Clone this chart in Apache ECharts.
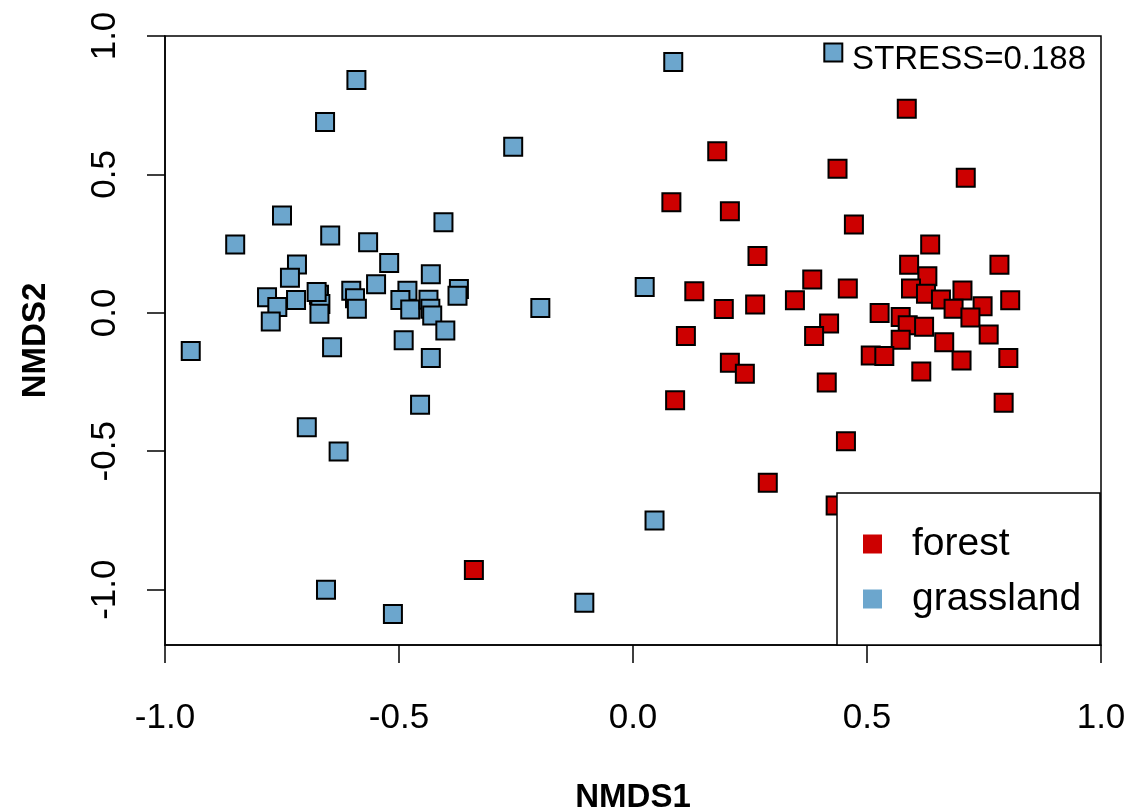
<!DOCTYPE html>
<html>
<head>
<meta charset="utf-8">
<script src="https://cdn.jsdelivr.net/npm/echarts@6/dist/echarts.min.js"></script>
<style>html,body{margin:0;padding:0;background:#fff}#c{width:1129px;height:812px}</style>
</head>
<body>
<div id="c"></div>
<script>
const groups = ['forest', 'grassland'];
const xTicks = [-1.0, -0.5, 0.0, 0.5, 1.0];
const yTicks = [-1.0, -0.5, 0.0, 0.5, 1.0];
const stressLabel = 'STRESS=0.188';

const grassland = [
  [-0.591, 0.841], [-0.658, 0.689], [-0.750, 0.352], [-0.850, 0.247], [-0.647, 0.279],
  [-0.566, 0.255], [-0.405, 0.327], [-0.718, 0.175], [-0.733, 0.127], [-0.521, 0.180],
  [-0.549, 0.103], [-0.432, 0.139], [-0.372, 0.086], [-0.375, 0.062], [-0.782, 0.056],
  [-0.760, 0.021], [-0.720, 0.046], [-0.671, 0.065], [-0.668, 0.032], [-0.670, -0.003],
  [-0.602, 0.080], [-0.594, 0.053], [-0.590, 0.015], [-0.482, 0.080], [-0.497, 0.046],
  [-0.476, 0.012], [-0.437, 0.047], [-0.433, 0.015], [-0.429, -0.010], [-0.774, -0.031],
  [-0.401, -0.064], [-0.945, -0.138], [-0.643, -0.124], [-0.490, -0.099], [-0.432, -0.163],
  [-0.455, -0.332], [-0.697, -0.413], [-0.629, -0.501], [-0.656, -1.000], [-0.513, -1.088],
  [0.086, 0.906], [-0.256, 0.600], [-0.198, 0.017], [0.025, 0.093], [0.046, -0.750],
  [-0.104, -1.047], [0.428, 0.940], [-0.676, 0.075]
];

const forest = [
  [0.180, 0.584], [0.082, 0.399], [0.207, 0.367], [0.266, 0.205], [0.131, 0.078],
  [0.194, 0.014], [0.261, 0.030], [0.113, -0.084], [0.207, -0.180], [0.239, -0.220],
  [0.090, -0.316], [0.585, 0.737], [0.437, 0.520], [0.711, 0.488], [0.472, 0.319],
  [0.635, 0.247], [0.590, 0.174], [0.783, 0.174], [0.383, 0.120], [0.459, 0.088],
  [0.346, 0.045], [0.629, 0.132], [0.594, 0.088], [0.626, 0.069], [0.658, 0.048],
  [0.704, 0.081], [0.685, 0.015], [0.747, 0.024], [0.721, -0.017], [0.806, 0.045],
  [0.527, -0.001], [0.572, -0.015], [0.587, -0.045], [0.622, -0.050], [0.419, -0.039],
  [0.387, -0.084], [0.760, -0.078], [0.572, -0.097], [0.665, -0.106], [0.508, -0.154],
  [0.537, -0.156], [0.702, -0.172], [0.802, -0.163], [0.616, -0.212], [0.414, -0.252],
  [0.792, -0.325], [0.455, -0.464], [0.288, -0.614], [0.433, -0.696], [-0.340, -0.929]
];

const FONT = "'Liberation Sans', Arial, sans-serif";
const chart = echarts.init(document.getElementById('c'), null, {renderer: 'canvas'});

const option = {
  animation: false,
  backgroundColor: '#fff',
  grid: {left: 165, right: 28, top: 36, bottom: 167, outerBoundsMode: 'none', containLabel: false,
         show: true, borderColor: '#000', borderWidth: 1.5, backgroundColor: 'transparent'},
  xAxis: {
    type: 'value', min: -1, max: 1, interval: 0.5,
    name: 'NMDS1', nameLocation: 'middle', nameGap: 136,
    nameTextStyle: {fontFamily: FONT, fontWeight: 'bold', fontSize: 33, color: '#000'},
    axisLine: {show: true, onZero: false, lineStyle: {color: '#000', width: 1.5}},
    axisTick: {show: true, length: 18, lineStyle: {color: '#000', width: 1.5}, customValues: xTicks},
    axisLabel: {margin: 56, fontFamily: FONT, fontSize: 35, color: '#000', customValues: xTicks, formatter: v => v.toFixed(1)},
    splitLine: {show: false}
  },
  yAxis: {
    type: 'value', min: -1.2, max: 1.0,
    name: 'NMDS2', nameLocation: 'middle', nameGap: 113,
    nameTextStyle: {fontFamily: FONT, fontWeight: 'bold', fontSize: 33, color: '#000'},
    axisLine: {show: true, onZero: false, lineStyle: {color: '#000', width: 1.5}},
    axisTick: {show: true, length: 18, lineStyle: {color: '#000', width: 1.5}, customValues: yTicks},
    axisLabel: {margin: 42, rotate: 90, fontFamily: FONT, fontSize: 35, color: '#000', customValues: yTicks, formatter: v => v.toFixed(1)},
    splitLine: {show: false}
  },
  legend: {
    data: groups, orient: 'vertical', left: 863, top: 522, padding: 0, itemGap: 11,
    itemWidth: 19, itemHeight: 19, icon: 'rect', z: 200,
    itemStyle: {borderWidth: 0},
    textStyle: {fontFamily: FONT, fontSize: 39, lineHeight: 40, color: '#000', padding: [4, 0, 0, 25]}
  },
  graphic: [
    {type: 'rect', z: 100, shape: {x: 837, y: 493, width: 263, height: 152}, style: {fill: '#fff', stroke: '#000', lineWidth: 1.5}},
    {type: 'text', z: 100, x: 1086, y: 60, style: {text: stressLabel, align: 'right', verticalAlign: 'middle', fontFamily: FONT, fontSize: 33, fill: '#000'}}
  ],
  series: [
    {name: 'forest', type: 'scatter', symbol: 'rect', symbolSize: 18, data: forest,
     itemStyle: {color: '#CD0000', borderColor: '#000', borderWidth: 2, opacity: 1}},
    {name: 'grassland', type: 'scatter', symbol: 'rect', symbolSize: 18, data: grassland,
     itemStyle: {color: '#6CA6CD', borderColor: '#000', borderWidth: 2, opacity: 1}}
  ]
};
chart.setOption(option);
</script>
</body>
</html>
